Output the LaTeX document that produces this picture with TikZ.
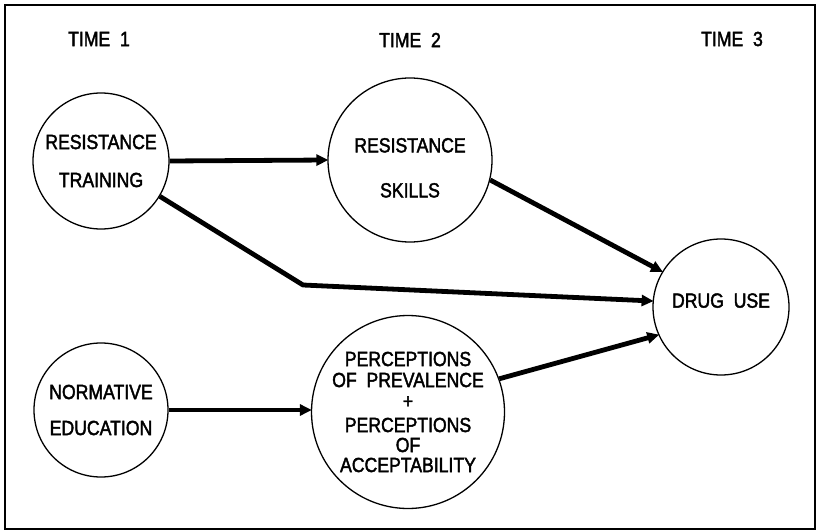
\documentclass[tikz,border=0pt]{standalone}
\usepackage{fontspec}
\setmainfont[FakeStretch=0.86,FakeBold=2]{Liberation Sans}
\usetikzlibrary{arrows.meta}
\begin{document}
\begin{tikzpicture}[x=1pt,y=1pt,
  font=\fontsize{20.5}{22}\selectfont,
  circ/.style={draw,circle,line width=1.3pt,inner sep=0pt,align=center},
  heading/.style={inner sep=0pt},
  link/.style={line width=4.8pt,-{Triangle[length=12pt,width=11pt]},shorten >=-1pt}]
  \useasboundingbox (0,0) rectangle (818,531);
  % outer frame
  \draw[line width=1.6pt] (5,2) rectangle (815,526);

  % column headings
  \node[heading] (t1) at (99,492) {TIME\ \ 1};
  \node[heading] (t2) at (410,491) {TIME\ \ 2};
  \node[heading] (t3) at (732,492) {TIME\ \ 3};

  % variables
  \node[circ,minimum size=136pt] (rt) at (101,370) {RESISTANCE\\[16pt]TRAINING};
  \node[circ,minimum size=134pt] (ne) at (101,121) {NORMATIVE\\[14pt]EDUCATION};
  \node[circ,minimum size=164pt] (rs) at (410,371)
    {\rule{0pt}{30pt}RESISTANCE\\[23pt]SKILLS};
  \node[circ,minimum size=184pt] (pp) at (408,119)
    {PERCEPTIONS\\[-1pt]OF\ \ PREVALENCE\\[-1pt]+\\[2pt]PERCEPTIONS\\[-2pt]OF\\[-2pt]ACCEPTABILITY};
  \node[circ,minimum size=136pt] (du) at (721,224)
    {DRUG\ \ USE\rule[-13pt]{0pt}{0pt}};

  % bend of the direct path
  \coordinate (bend) at (303,246);

  % paths
  \draw[link] (rt.east) -- (rs.west);
  \draw[link] (rs.-14) -- (du.149);
  \draw[link,line join=round] (rt.-31) -- (bend) -- (du.175);
  \draw[link] (ne.east) -- (ne.east -| pp.west);
  \draw[link] (pp.20) -- (du.-156);
\end{tikzpicture}
\end{document}
